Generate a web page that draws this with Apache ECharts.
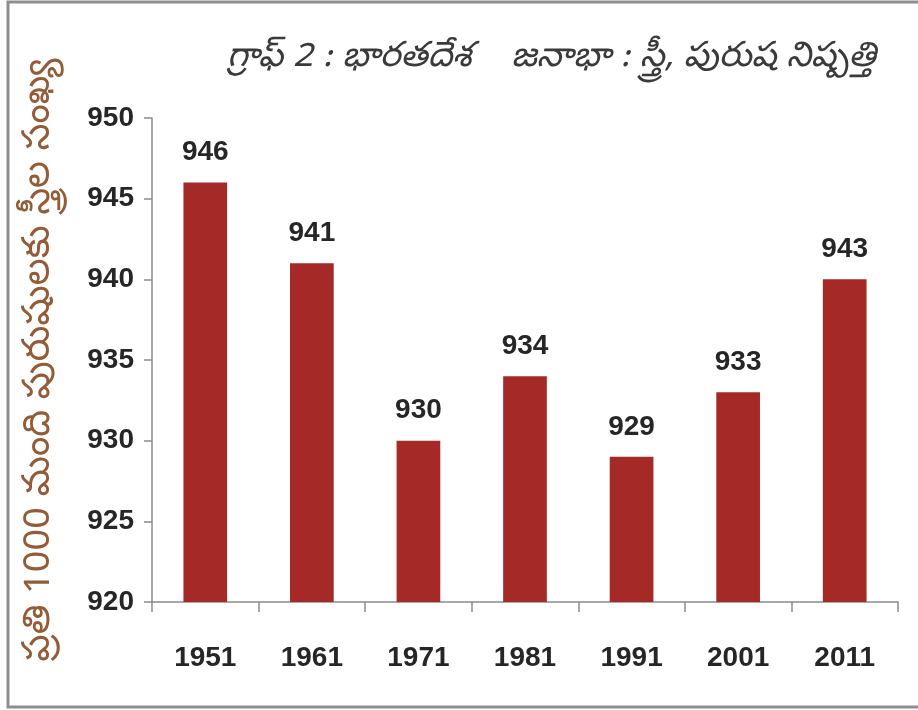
<!DOCTYPE html>
<html>
<head>
<meta charset="utf-8">
<title>భారతదేశ జనాభా : స్త్రీ, పురుష నిష్పత్తి</title>
<script src="https://cdn.jsdelivr.net/npm/echarts@6/dist/echarts.min.js"></script>
<style>
  html, body { margin: 0; padding: 0; background: #fff; }
  #chart { width: 918px; height: 710px; }
</style>
</head>
<body>
<div id="chart"></div>
<script>
// census years
const years = ['1951', '1961', '1971', '1981', '1991', '2001', '2011']
// bar heights as drawn
const barValues = [946, 941, 930, 934, 929, 933, 940]
// numbers printed above the bars (2011 is printed 943 but drawn at 940)
const barLabels = ['946', '941', '930', '934', '929', '933', '943']
const yMin = 920
const yMax = 950
const yStep = 5

const numFont = '"Liberation Sans Narrow", "Liberation Sans", sans-serif'
const teluguFont = '"Noto Sans Telugu", "Noto Sans", "DejaVu Sans", sans-serif'

const myChart = echarts.init(document.getElementById('chart'))

const option = {
  animation: false,
  title: {
    text: 'గ్రాఫ్ 2 : భారతదేశ    జనాభా : స్త్రీ, పురుష నిష్పత్తి',
    left: 222,
    top: 38,
    textStyle: {
      fontFamily: teluguFont,
      fontStyle: 'italic',
      fontWeight: 'normal',
      fontSize: 35,
      color: '#3a3a3a',
    },
  },
  graphic: [
    {
      type: 'rect',
      shape: { x: 8, y: 2, width: 930, height: 705 },
      style: { fill: 'none', stroke: '#8e8e8e', lineWidth: 3 },
    },
  ],
  grid: {
    left: 152,
    right: 20,
    top: 118,
    bottom: 108,
  },
  xAxis: {
    type: 'category',
    data: years,
    axisLine: { lineStyle: { color: '#8c8c8c', width: 1.5 } },
    axisTick: { show: true, length: 10, interval: 0, lineStyle: { color: '#8c8c8c', width: 1.5 } },
    axisLabel: {
      margin: 42,
      fontFamily: numFont,
      fontWeight: 'bold',
      fontSize: 28,
      color: '#262626',
    },
  },
  yAxis: {
    type: 'value',
    min: yMin,
    max: yMax,
    interval: yStep,
    name: 'ప్రతి 1000 మంది పురుషులకు స్త్రీల సంఖ్య',
    nameLocation: 'middle',
    nameGap: 89,
    nameRotate: 90,
    nameTextStyle: {
      fontFamily: teluguFont,
      fontSize: 38,
      color: '#935b36',
    },
    splitLine: { show: false },
    axisLine: { show: true, lineStyle: { color: '#8c8c8c', width: 1.5 } },
    axisTick: { show: true, length: 8, lineStyle: { color: '#8c8c8c', width: 1.5 } },
    axisLabel: {
      margin: 18,
      fontFamily: numFont,
      fontWeight: 'bold',
      fontSize: 28,
      color: '#262626',
    },
  },
  series: [
    {
      type: 'bar',
      data: barValues,
      barWidth: '41%',
      itemStyle: { color: '#a52a27' },
      label: {
        show: true,
        position: 'top',
        distance: 16,
        fontFamily: numFont,
        fontWeight: 'bold',
        fontSize: 28,
        color: '#262626',
        formatter: (p) => barLabels[p.dataIndex],
      },
    },
  ],
}

myChart.setOption(option)
</script>
</body>
</html>
